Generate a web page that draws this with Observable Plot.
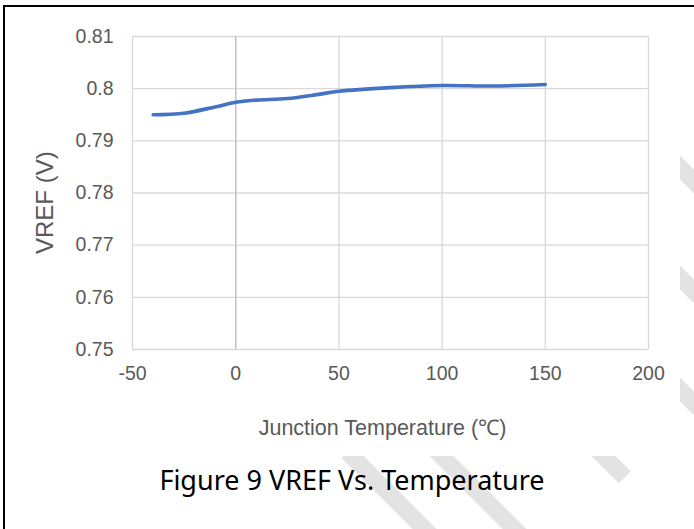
<!DOCTYPE html>
<html><head><meta charset="utf-8">
<script src="https://cdn.jsdelivr.net/npm/d3@7"></script>
<script src="https://cdn.jsdelivr.net/npm/@observablehq/plot@0.6"></script>
<style>
body{margin:0;background:#fff;}
#wrap{position:relative;width:694px;height:529px;overflow:hidden;background:#fff;}
.stripe{position:absolute;background:#e3e3e3;transform-origin:50% 50%;height:17px;transform:rotate(45deg);}
#chart{position:absolute;left:5px;top:6px;}
#chart svg{background:#fff;display:block;}
#title{position:absolute;left:5px;width:694px;top:461px;text-align:center;font-family:"Noto Sans",sans-serif;font-size:27px;color:#000;}
#bl{position:absolute;left:3px;top:5px;width:2px;height:524px;background:#000;}
#bt{position:absolute;left:3px;top:5px;width:691px;height:2px;background:#000;}
</style>
</head><body>
<div id="wrap">
  <div class="stripe" style="left:330px;top:486px;width:120px;"></div>
  <div class="stripe" style="left:418px;top:484px;width:120px;"></div>
  <div class="stripe" style="left:565px;top:444px;width:70px;"></div>
  <div class="stripe" style="left:657px;top:166px;width:60px;"></div>
  <div class="stripe" style="left:657px;top:276px;width:60px;"></div>
  <div class="stripe" style="left:657px;top:388px;width:60px;"></div>
  <div id="chart"></div>
  <div id="bl"></div><div id="bt"></div>
  <div id="title">Figure 9 VREF Vs. Temperature</div>
</div>
<script>
const temps = [-40, -25, -10, 0, 10, 25, 40, 50, 75, 100, 125, 150];
const vref  = [0.7950, 0.7953, 0.7965, 0.7974, 0.7978, 0.7981, 0.7989, 0.7995, 0.8002, 0.8006, 0.8005, 0.8008];
const xTicks = [-50, 0, 50, 100, 150, 200];
const yTicks = [0.75, 0.76, 0.77, 0.78, 0.79, 0.80, 0.81];
const xTitle = "Junction Temperature (℃)";
const yTitle = "VREF (V)";

const data = temps.map((t, i) => ({t, v: vref[i]}));

const plot = Plot.plot({
  width: 675,
  height: 450,
  marginLeft: 127,
  marginRight: 32,
  marginTop: 30,
  marginBottom: 107,
  style: {fontFamily: "'Liberation Sans', Arial, sans-serif", fontSize: "19.5px", color: "#595959", background: "#fff"},
  x: {domain: [-50, 200]},
  y: {domain: [0.75, 0.81]},
  marks: [
    Plot.gridX(xTicks, {stroke: "#d9d9d9", strokeOpacity: 1, strokeWidth: 1.3}),
    Plot.gridY(yTicks, {stroke: "#d9d9d9", strokeOpacity: 1, strokeWidth: 1.3}),
    Plot.ruleX([0], {stroke: "#bfbfbf", strokeWidth: 1.3}),
    Plot.axisX({ticks: xTicks, tickSize: 0, tickPadding: 17, label: null, tickFormat: d => String(d)}),
    Plot.axisY({ticks: yTicks, tickSize: 0, tickPadding: 19, label: null, tickFormat: d => String(+d.toFixed(2))}),
    Plot.line(data, {x: "t", y: "v", stroke: "#4472c4", strokeWidth: 3.6, curve: "catmull-rom"}),
    Plot.text([xTitle], {frameAnchor: "bottom", dy: 85, dx: -8, fontSize: 21.5, fill: "#595959"}),
    Plot.text([yTitle], {frameAnchor: "left", dx: -87, dy: 61, rotate: -90, fontSize: 24, fill: "#595959"})
  ]
});
document.getElementById("chart").appendChild(plot);
</script>
</body></html>
